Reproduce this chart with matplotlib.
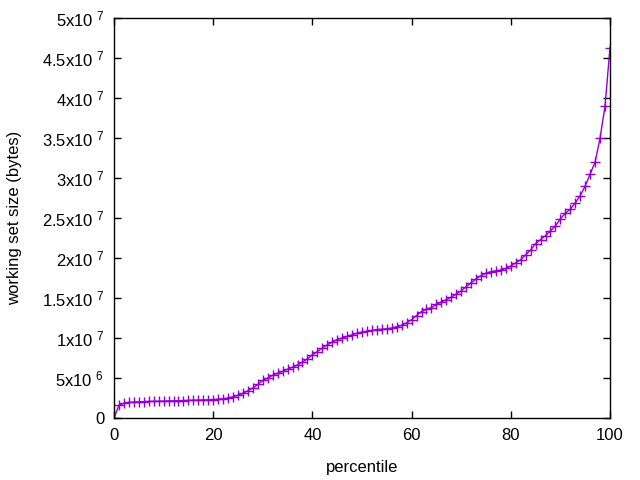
import numpy as np
import matplotlib
matplotlib.use("Agg")
import matplotlib.pyplot as plt

plt.rcParams['font.family'] = ['Liberation Sans', 'DejaVu Sans']
plt.rcParams['mathtext.default'] = 'regular'

# percentile -> working set size (units of 1e6 bytes)
percentile = np.arange(0, 101)
wss_mb = [
    0.0, 1.6, 1.85, 1.95, 2.0, 2.02, 2.05, 2.07, 2.08, 2.1,
    2.12, 2.13, 2.15, 2.17, 2.18, 2.2, 2.22, 2.24, 2.25, 2.27,
    2.3, 2.35, 2.4, 2.5, 2.65, 2.85, 3.1, 3.4, 3.75, 4.2,
    4.7, 5.0, 5.35, 5.6, 5.85, 6.1, 6.35, 6.65, 7.0, 7.4,
    7.9, 8.3, 8.75, 9.15, 9.5, 9.8, 10.0, 10.2, 10.4, 10.6,
    10.75, 10.85, 10.95, 11.05, 11.1, 11.15, 11.25, 11.4, 11.6, 11.9,
    12.3, 12.8, 13.3, 13.6, 13.8, 14.2, 14.5, 14.8, 15.1, 15.5,
    15.9, 16.4, 16.9, 17.4, 17.8, 18.1, 18.3, 18.4, 18.5, 18.7,
    19.0, 19.4, 19.8, 20.4, 21.0, 21.8, 22.3, 22.8, 23.4, 24.0,
    24.9, 25.6, 26.1, 26.9, 27.8, 29.0, 30.5, 32.0, 35.0, 39.0,
    46.3,
]
wss = np.array(wss_mb) * 1e6

y_ticks = np.arange(0, 5.01e7, 5e6)
y_labels = ['0', r'5x10 $^{6}$', r'1x10 $^{7}$', r'1.5x10 $^{7}$', r'2x10 $^{7}$',
            r'2.5x10 $^{7}$', r'3x10 $^{7}$', r'3.5x10 $^{7}$', r'4x10 $^{7}$',
            r'4.5x10 $^{7}$', r'5x10 $^{7}$']

fig = plt.figure(figsize=(6.4, 4.8), dpi=100)
ax = fig.add_axes([114 / 640, 62 / 480, 496 / 640, 400 / 480])

ax.plot(percentile, wss, color='#9400d3', lw=1, marker='+', ms=7, mew=1)

ax.set_xlim(0, 100)
ax.set_ylim(0, 5e7)
ax.set_xticks(np.arange(0, 101, 20))
ax.set_yticks(y_ticks)
ax.set_yticklabels(y_labels)
ax.tick_params(direction='in', top=True, right=True, length=5, width=1,
               labelsize=12, pad=7, colors='black')
for s in ax.spines.values():
    s.set_linewidth(1)

ax.set_xlabel('percentile', fontsize=12)
ax.set_ylabel('working set size (bytes)', fontsize=12)
ax.xaxis.set_label_coords(0.5, -0.105)
ax.yaxis.set_label_coords(-0.185, 0.5)

fig.savefig('out.png', dpi=100)
